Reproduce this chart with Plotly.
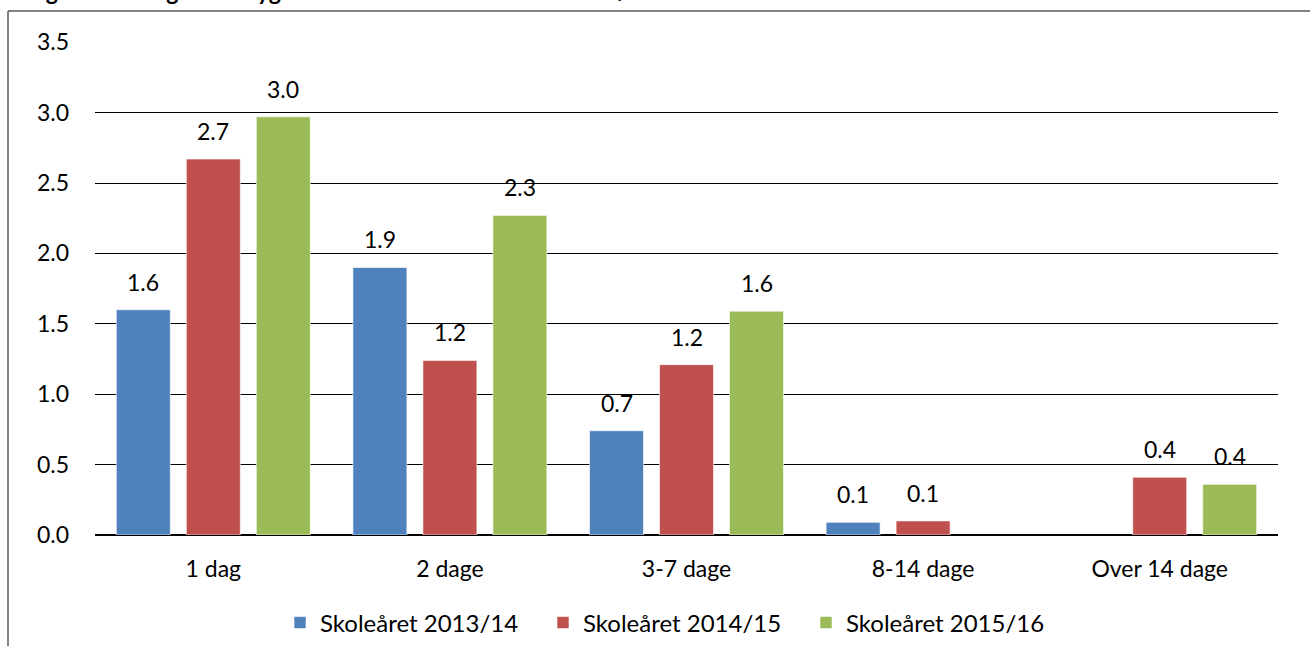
import plotly.graph_objects as go

categories = ['1 dag', '2 dage', '3-7 dage', '8-14 dage', 'Over 14 dage']
series_names = ['Skoleåret 2013/14', 'Skoleåret 2014/15', 'Skoleåret 2015/16']
values_1314 = [1.6, 1.9, 0.74, 0.09, None]
values_1415 = [2.67, 1.24, 1.21, 0.1, 0.41]
values_1516 = [2.97, 2.27, 1.59, None, 0.36]
colors = ['#4F81BD', '#C0504D', '#9BBB59']
y_ticks = [0, 0.5, 1.0, 1.5, 2.0, 2.5, 3.0, 3.5]

FONT = 'Lato, "Open Sans", sans-serif'
FS = 23
W, H = 1310, 646
M = dict(l=95, r=32, t=42, b=111)
plot_w = W - M['l'] - M['r']
plot_h = H - M['t'] - M['b']
step = 70  # px between bars inside a group

fig = go.Figure()
all_values = [values_1314, values_1415, values_1516]
for name, vals, col in zip(series_names, all_values, colors):
    fig.add_trace(go.Bar(
        x=categories, y=vals, name=name,
        marker=dict(color=col, line=dict(color='rgba(255,255,255,0.6)', width=1)),
    ))

# value labels above bars
for i, vals in enumerate(all_values):
    for cat, v in zip(categories, vals):
        if v is None:
            continue
        fig.add_annotation(
            x=cat, y=v, xref='x', yref='y', text=f'{v:.1f}',
            showarrow=False, yanchor='bottom', xshift=(i - 1) * step, yshift=12,
            font=dict(size=FS, color='black', family=FONT),
        )

# figure title above the frame (cut off by the page edge, as in the source)
fig.add_annotation(
    x=(25 - M['l']) / plot_w, y=1 + (M['t'] - 7) / plot_h, xref='paper', yref='paper',
    xanchor='left', yanchor='bottom', showarrow=False,
    text='<b>Figur 17: Længden af sygefraværet – SKOLEN I FÆLLEDHØJGÅRD</b>',
    font=dict(size=FS, color='black', family=FONT),
)

# outer frame (left and top edges)
fx0 = (8 - M['l']) / plot_w
fy1 = 1 + (M['t'] - 11) / plot_h
fig.add_shape(type='line', xref='paper', yref='paper', x0=fx0, x1=fx0, y0=-1, y1=fy1,
              line=dict(color='#595959', width=1.5))
fig.add_shape(type='line', xref='paper', yref='paper', x0=fx0, x1=1.2, y0=fy1, y1=fy1,
              line=dict(color='#595959', width=1.5))

fig.update_layout(
    width=W, height=H,
    margin=dict(M, autoexpand=False),
    paper_bgcolor='white',
    plot_bgcolor='white',
    font=dict(family=FONT, size=FS, color='black'),
    barmode='group',
    bargap=0.1125,
    bargroupgap=0.229,
    xaxis=dict(showgrid=False, showline=False, ticks='', ticklabelstandoff=18,
               tickfont=dict(size=FS)),
    yaxis=dict(range=[0, 3.5015], tickvals=y_ticks, tickformat='.1f',
               showgrid=True, gridcolor='black', gridwidth=1.2,
               zeroline=True, zerolinecolor='black', zerolinewidth=2.2,
               showline=False, ticks='', ticklabelstandoff=25,
               tickfont=dict(size=FS)),
    legend=dict(orientation='h', xref='container', yref='container',
                x=280 / W, xanchor='left', y=1 - 623 / H, yanchor='middle',
                font=dict(size=24), itemwidth=30, entrywidth=218,
                traceorder='normal'),
    showlegend=True,
)

fig.write_html('out.html', config={'displayModeBar': False},
               post_script="document.body.style.margin='0';")
